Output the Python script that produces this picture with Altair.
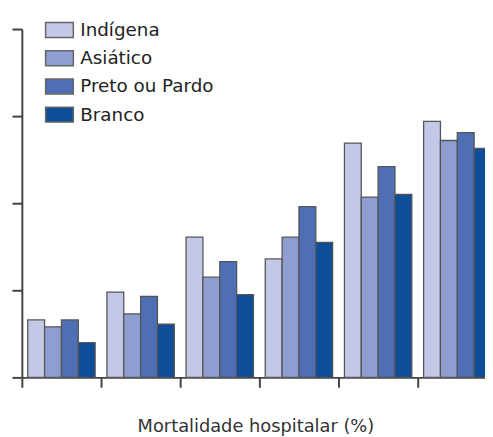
import altair as alt
import pandas as pd

groups = ["G1", "G2", "G3", "G4", "G5", "G6"]
series = ["Indígena", "Asiático", "Preto ou Pardo", "Branco"]
colors = ["#c3c8e6", "#8e9ed0", "#4e6fb5", "#0e4d98"]

indigena = [6.6, 9.8, 16.1, 13.6, 26.9, 29.4]
asiatico = [5.8, 7.3, 11.5, 16.1, 20.7, 27.2]
preto = [6.6, 9.3, 13.3, 19.6, 24.2, 28.1]
branco = [4.0, 6.1, 9.5, 15.5, 21.0, 26.3]

rows = []
for name, vals in zip(series, [indigena, asiatico, preto, branco]):
    for g, v in zip(groups, vals):
        rows.append({"grupo": g, "raca": name, "valor": v})
df = pd.DataFrame(rows)

legend = alt.Legend(
    title=None,
    orient="none",
    legendX=23,
    legendY=-14,
    padding=0,
    symbolType="M-1,-0.54H1V0.54H-1Z",
    symbolSize=784,
    symbolStrokeColor="#666666",
    symbolStrokeWidth=1.5,
    symbolOpacity=1,
    labelFont="DejaVu Sans",
    labelFontSize=18.5,
    labelColor="#222222",
    labelOffset=6,
    rowPadding=2.5,
)

chart = (
    alt.Chart(df)
    .mark_bar(stroke="#555555", strokeWidth=1.3, opacity=1, clip=True)
    .encode(
        x=alt.X(
            "grupo:N",
            sort=groups,
            scale=alt.Scale(range=[0, 480], paddingInner=0, paddingOuter=0),
            axis=alt.Axis(
                title="Mortalidade hospitalar (%)",
                titleFont="DejaVu Sans",
                titleFontSize=18,
                titleFontWeight="normal",
                titleColor="#333333",
                titleX=236,
                titlePadding=30,
                labels=False,
                ticks=True,
                tickSize=10,
                tickWidth=2,
                tickColor="#444444",
                bandPosition=0,
                domainColor="#444444",
                domainWidth=2,
            ),
        ),
        xOffset=alt.XOffset(
            "raca:N",
            sort=series,
            scale=alt.Scale(paddingInner=0, paddingOuter=0.35),
        ),
        y=alt.Y(
            "valor:Q",
            scale=alt.Scale(domain=[0, 40]),
            axis=alt.Axis(
                title=None,
                labels=False,
                values=[0, 10, 20, 30, 40],
                tickSize=10,
                tickWidth=2,
                tickColor="#444444",
                domainColor="#444444",
                domainWidth=2,
                grid=False,
            ),
        ),
        color=alt.Color(
            "raca:N",
            sort=series,
            scale=alt.Scale(domain=series, range=colors),
            legend=legend,
        ),
    )
    .properties(
        width=468,
        height=352,
        autosize=alt.AutoSizeParams(type="none"),
        padding={"left": 14, "top": 19, "right": 0, "bottom": 58},
    )
    .configure_view(stroke=None)
)

chart.save("out.html", embed_options={"renderer": "svg", "actions": False})
